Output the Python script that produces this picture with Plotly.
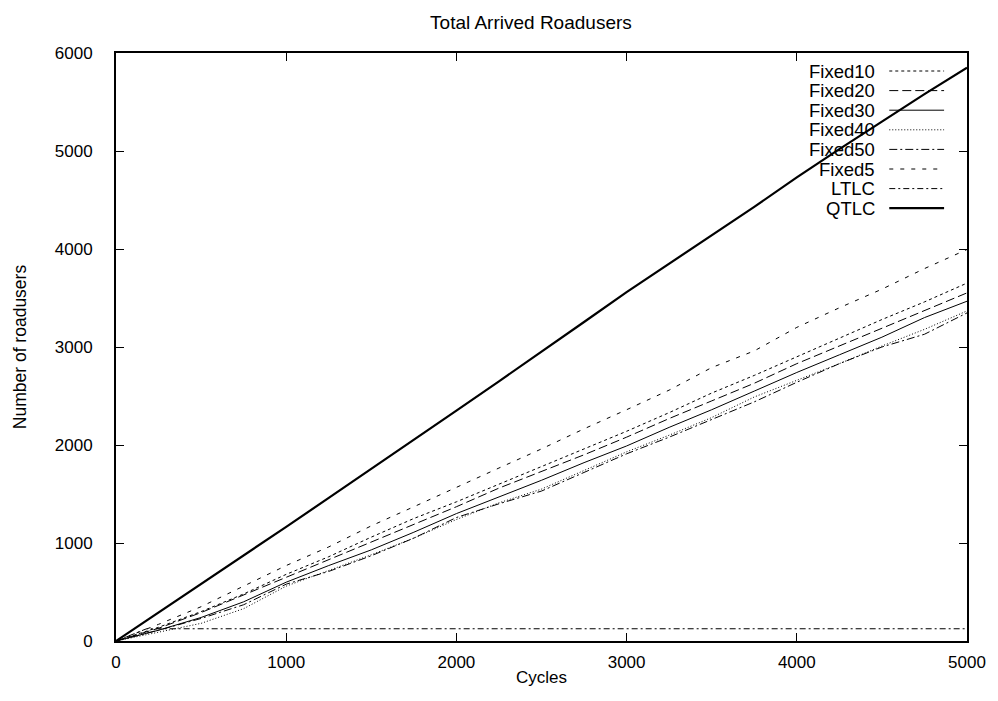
import plotly.graph_objects as go

# ---------------- data ----------------
cycles = [0, 250, 500, 750, 1000, 1250, 1500, 1750, 2000, 2250, 2500,
          2750, 3000, 3250, 3500, 3750, 4000, 4250, 4500, 4750, 5000]

fixed5 = [0, 170, 350, 560, 770, 960, 1175, 1370, 1570, 1765, 1960,
          2165, 2360, 2560, 2790, 2960, 3200, 3400, 3590, 3800, 3995]
fixed10 = [0, 140, 300, 480, 680, 860, 1060, 1250, 1420, 1600, 1775,
           1960, 2140, 2330, 2530, 2710, 2900, 3090, 3280, 3460, 3652]
fixed20 = [0, 130, 290, 470, 650, 830, 1010, 1190, 1370, 1560, 1730,
           1900, 2080, 2270, 2450, 2630, 2830, 3010, 3190, 3370, 3552]
fixed30 = [0, 110, 240, 400, 600, 770, 930, 1110, 1300, 1470, 1640,
           1820, 1990, 2180, 2360, 2550, 2740, 2920, 3100, 3300, 3467]
fixed40 = [0, 90, 180, 330, 560, 720, 880, 1050, 1240, 1410, 1550,
           1740, 1930, 2100, 2280, 2490, 2660, 2830, 3010, 3180, 3368]
fixed50 = [0, 110, 230, 370, 580, 710, 870, 1050, 1260, 1400, 1530,
           1720, 1910, 2080, 2260, 2440, 2640, 2830, 3000, 3130, 3348]
qtlc = [0, 290, 580, 870, 1165, 1460, 1755, 2050, 2350, 2650, 2950,
        3255, 3560, 3850, 4140, 4430, 4730, 5020, 5300, 5580, 5850]

ltlc_cycles = [0, 100, 180, 5000]
ltlc = [0, 65, 125, 125]

x_ticks = [0, 1000, 2000, 3000, 4000, 5000]
y_ticks = [0, 1000, 2000, 3000, 4000, 5000, 6000]

legend_names = ["Fixed10", "Fixed20", "Fixed30", "Fixed40", "Fixed50", "Fixed5", "LTLC", "QTLC"]

# ---------------- styles ----------------
styles = {
    "Fixed10": dict(width=1, dash="3px,3px"),
    "Fixed20": dict(width=1, dash="9px,4px"),
    "Fixed30": dict(width=1, dash="solid"),
    "Fixed40": dict(width=1, dash="1px,2px"),
    "Fixed50": dict(width=1, dash="8px,3px,2px,3px"),
    "Fixed5": dict(width=1, dash="4px,7px"),
    "LTLC": dict(width=1, dash="6px,3px,2px,3px"),
    "QTLC": dict(width=2.2, dash="solid"),
}

series = {
    "Fixed10": (cycles, fixed10),
    "Fixed20": (cycles, fixed20),
    "Fixed30": (cycles, fixed30),
    "Fixed40": (cycles, fixed40),
    "Fixed50": (cycles, fixed50),
    "Fixed5": (cycles, fixed5),
    "LTLC": (ltlc_cycles, ltlc),
    "QTLC": (cycles, qtlc),
}

FONT = "Liberation Sans, Arial, Helvetica, sans-serif"

fig = go.Figure()
for name in legend_names:
    xs, ys = series[name]
    st = styles[name]
    fig.add_trace(go.Scatter(
        x=xs, y=ys, mode="lines", name=name, showlegend=False,
        line=dict(color="black", width=st["width"], dash=st["dash"]),
    ))

# ---------------- gnuplot-like key (text then sample) ----------------
W, H = 998, 701
L, R, T, B = 116, 28, 53, 60
pw, ph = W - L - R, H - T - B

def px_x(p):
    return (p - L) / pw

def px_y(p):
    return (H - B - p) / ph

shapes = []
annotations = []
for i, name in enumerate(legend_names):
    yrow = 71 + i * 19.6
    annotations.append(dict(
        x=px_x(880), y=px_y(yrow), xref="paper", yref="paper",
        text=name, showarrow=False, xanchor="right", yanchor="middle",
        font=dict(family=FONT, size=18.5, color="black"),
    ))
    st = styles[name]
    shapes.append(dict(
        type="line", xref="paper", yref="paper",
        x0=px_x(892), x1=px_x(947), y0=px_y(yrow), y1=px_y(yrow),
        line=dict(color="black", width=st["width"], dash=st["dash"]),
    ))

fig.update_layout(
    width=W, height=H,
    margin=dict(l=L, r=R, t=T, b=B),
    paper_bgcolor="white", plot_bgcolor="white",
    font=dict(family=FONT, size=18, color="black"),
    title=dict(text="Total Arrived Roadusers", x=0.532, xanchor="center",
               y=1 - 22 / H, yanchor="middle",
               font=dict(family=FONT, size=19, color="black")),
    shapes=shapes,
    annotations=annotations,
    showlegend=False,
)

fig.update_xaxes(
    range=[0, 5000], tickvals=x_ticks, ticktext=[str(v) for v in x_ticks],
    ticks="inside", ticklen=8, tickwidth=1, tickcolor="black",
    showline=True, linecolor="black", linewidth=2, mirror="ticks",
    showgrid=False, zeroline=False, ticklabelstandoff=5,
    tickfont=dict(family=FONT, size=17, color="black"),
    title=dict(text="Cycles", standoff=0, font=dict(family=FONT, size=17, color="black")),
)
fig.update_yaxes(
    range=[0, 6000], tickvals=y_ticks, ticktext=[str(v) for v in y_ticks],
    ticks="inside", ticklen=8, tickwidth=1, tickcolor="black",
    showline=True, linecolor="black", linewidth=2, mirror="ticks",
    showgrid=False, zeroline=False, ticklabelstandoff=18,
    tickfont=dict(family=FONT, size=17, color="black"),
    title=dict(text="Number of roadusers", standoff=24, font=dict(family=FONT, size=17.5, color="black")),
)

fig.write_html("out.html")
